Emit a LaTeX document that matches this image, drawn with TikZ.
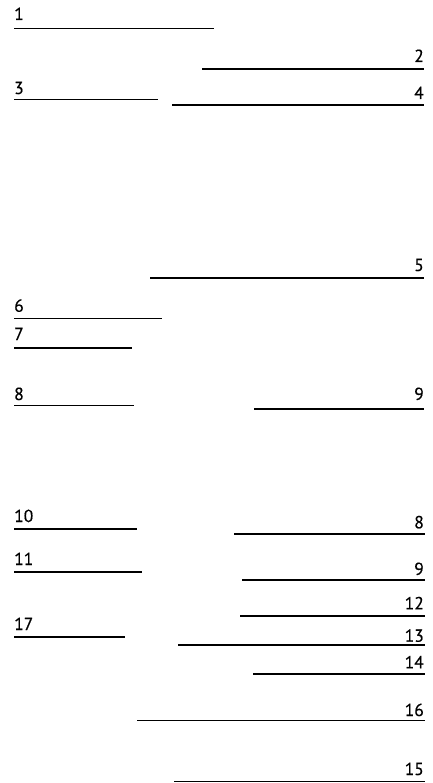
\documentclass[tikz,border=0pt]{standalone}
\usepackage{fontspec}
\setmainfont{PT Sans}
\newfontfamily\lblfont[FakeBold=0.5]{PT Sans}
\begin{document}
\begin{tikzpicture}[x=1pt,y=-1pt,
  rule/.style={line width=1.3pt},
  bold rule/.style={line width=2pt},
  lbl/.style={inner sep=0pt,font=\lblfont\fontsize{17.5}{17.5}\selectfont},
  lw/.style={lbl,anchor=base west},
  le/.style={lbl,anchor=base east}]
\useasboundingbox (0,0) rectangle (432,783);
% left-side lines
\draw[rule] (14,28.3) -- (214,28.3);
\node[lw] (l1) at (14,20) {1};
\draw[rule] (14,99.5) -- (158,99.5);
\node[lw] (l3) at (14,94) {3};
\draw[rule] (14,318.7) -- (162,318.7);
\node[lw] (l6) at (14,311.7) {6};
\draw[bold rule] (14,348) -- (132,348);
\node[lw] (l7) at (14,340) {7};
\draw[rule] (14,405.3) -- (134,405.3);
\node[lw] (l8) at (14,400) {8};
\draw[bold rule] (14,528.7) -- (137,528.7);
\node[lw] (l10) at (14,522) {10};
\draw[bold rule] (14,571.7) -- (142,571.7);
\node[lw] (l11) at (14,565) {11};
\draw[rule] (14,637) -- (125,637);
\node[lw] (l17) at (14,630) {17};
% right-side lines
\draw[rule] (202,69) -- (424,69);
\node[le] (l2) at (424,62) {2};
\draw[rule] (172,105) -- (424,105);
\node[le] (l4) at (424,99) {4};
\draw[rule] (150,278) -- (424,278);
\node[le] (l5) at (424,271) {5};
\draw[bold rule] (254,409) -- (424,409);
\node[le] (l9) at (424,400) {9};
\draw[bold rule] (234,533.7) -- (425,533.7);
\node[le] (l8b) at (424,528.3) {8};
\draw[rule] (242,580) -- (425,580);
\node[le] (l9b) at (424,575) {9};
\draw[bold rule] (240,616) -- (425,616);
\node[le] (l12) at (424,609.3) {12};
\draw[rule] (178,645) -- (425,645);
\node[le] (l13) at (424,641.7) {13};
\draw[bold rule] (253,674.3) -- (425,674.3);
\node[le] (l14) at (424,668.3) {14};
\draw[rule] (137,720.7) -- (425,720.7);
\node[le] (l16) at (424,716) {16};
\draw[rule] (174,781.2) -- (425,781.2);
\node[le] (l15) at (424,775) {15};
\end{tikzpicture}
\end{document}
